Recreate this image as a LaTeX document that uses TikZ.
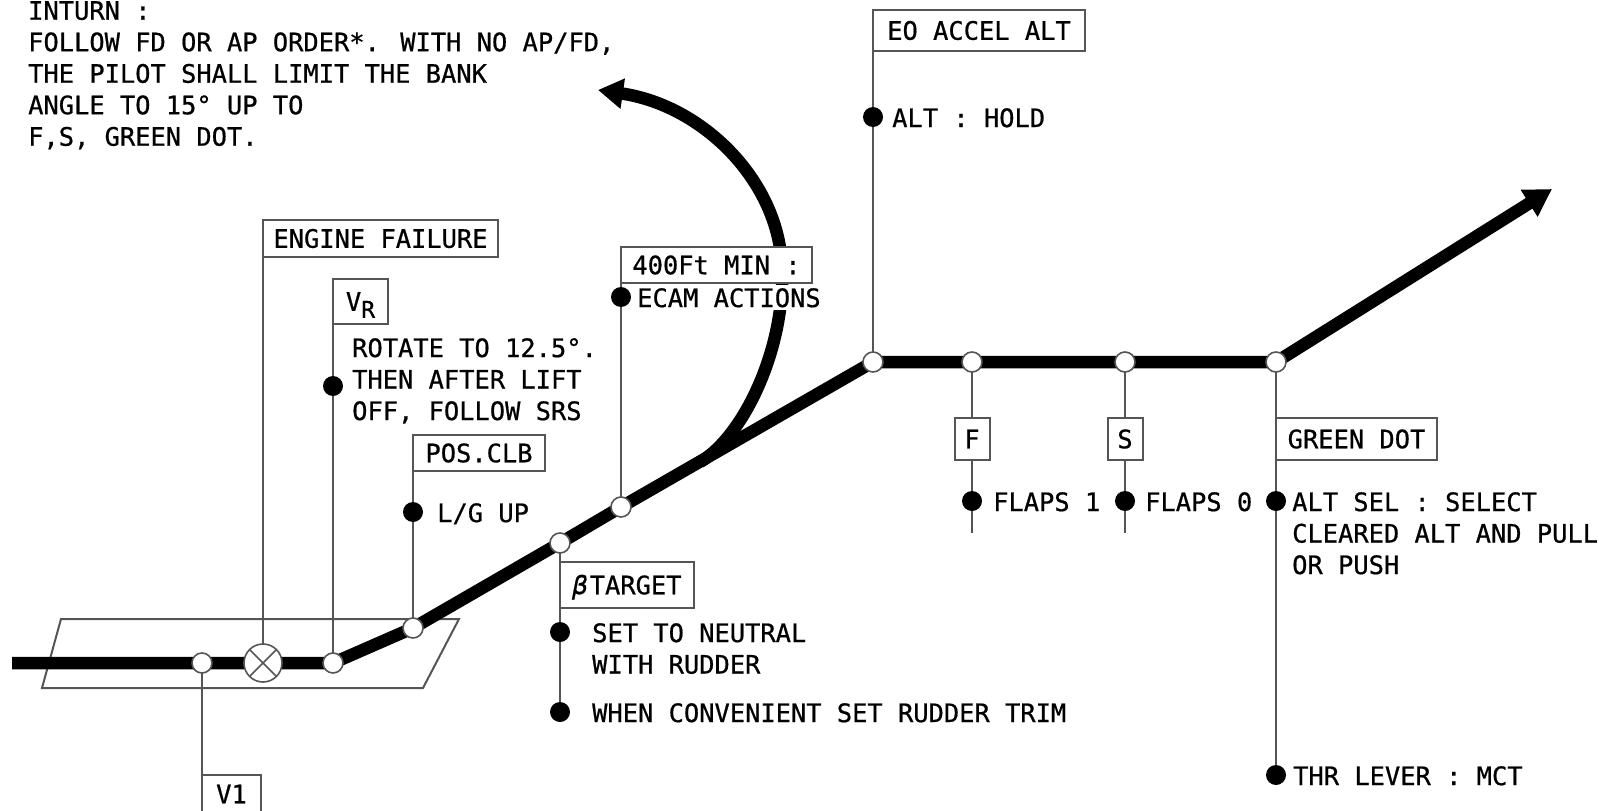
\documentclass[tikz,border=0pt]{standalone}
\usepackage{fontspec}
\setmainfont{DejaVu Sans Mono}[FakeBold=0.7]
\usetikzlibrary{arrows.meta,backgrounds}
\definecolor{lnc}{HTML}{555555}
\begin{document}
\begin{tikzpicture}[x=1pt,y=-1pt,
  font=\fontsize{25.4}{31.5}\selectfont,
  thinln/.style={draw=lnc, line width=2pt},
  lbox/.style={draw=lnc, line width=2pt, fill=white, anchor=north west, inner sep=0pt, outer sep=0pt, text height=18.5pt, text depth=0pt},
  wcirc/.style={circle, draw=lnc, line width=1.6pt, fill=white, minimum size=20pt, inner sep=0pt, outer sep=0pt},
  bdot/.style={circle, fill=black, minimum size=20pt, inner sep=0pt, outer sep=0pt},
  txt/.style={anchor=north west, inner sep=0pt, align=left},
  flight/.style={line width=12.5pt, line join=round}]
\useasboundingbox (0,0) rectangle (1599,811);

% circles on the flight path
\node[wcirc] (v1) at (202,663) {};
\node[circle, draw=lnc, line width=1.6pt, fill=white, minimum size=38pt, inner sep=0pt, outer sep=0pt] (ef) at (263,663) {};
\draw[lnc, line width=1.6pt] (ef.north west) -- (ef.south east) (ef.north east) -- (ef.south west);
\node[wcirc] (vr) at (333,663) {};
\node[wcirc] (pos) at (413,628) {};
\node[wcirc] (bt) at (560,543) {};
\node[wcirc] (m400) at (621,507) {};
\node[wcirc] (eo) at (873,362) {};
\node[wcirc] (fp) at (972,362) {};
\node[wcirc] (sp) at (1125,362) {};
\node[wcirc] (gd) at (1276,362) {};
\coordinate (start) at (12,663);
\coordinate (tip) at (1552,189);
\coordinate (cs) at (700,462);
\coordinate (ce) at (598,90);
\coordinate (fend) at (972,533);
\coordinate (send) at (1125,533);

% label boxes
\node[lbox, minimum width=235pt, minimum height=37pt] (efb) at (263,220) {ENGINE FAILURE};
\node[lbox, minimum width=55pt, minimum height=45pt] (vrb) at (333,279) {V\raisebox{-7pt}{\fontsize{23}{23}\selectfont R}};
\node[lbox, minimum width=132pt, minimum height=36pt] (posb) at (413,435) {POS.CLB};
\node[lbox, minimum width=191pt, minimum height=36pt] (b400) at (621,247) {400Ft MIN :};
\node[lbox, minimum width=134pt, minimum height=46pt] (btb) at (560,562) {{\itshape β}\hspace{2pt}TARGET};
\node[lbox, minimum width=212pt, minimum height=41pt] (eob) at (873,10) {EO ACCEL ALT};
\node[lbox, anchor=north, minimum width=35pt, minimum height=42pt] (fb) at (972,418) {F};
\node[lbox, anchor=north, minimum width=35pt, minimum height=42pt] (sb) at (1125,418) {S};
\node[lbox, minimum width=161pt, minimum height=42pt] (gdb) at (1276,418) {GREEN DOT};
\node[lbox, minimum width=59pt, minimum height=38pt] (v1b) at (202,775) {V1};

% action dots
\node[bdot] (d1) at (333,386) {};
\node[bdot] (d2) at (413,512) {};
\node[bdot] (d3) at (621,297) {};
\node[bdot] (d4) at (560,632) {};
\node[bdot] (d5) at (560,712) {};
\node[bdot] (d6) at (873,117) {};
\node[bdot] (d7) at (972,501) {};
\node[bdot] (d8) at (1125,501) {};
\node[bdot] (d9) at (1276,501) {};
\node[bdot] (d10) at (1276,775) {};

% texts
\node[txt] (t0) at (28,1) {INTURN :\\FOLLOW FD OR AP ORDER*. WITH NO AP/FD,\\THE PILOT SHALL LIMIT THE BANK\\ANGLE TO 15° UP TO\\F,S, GREEN DOT.};
\node[txt] (t1) at (352,338) {ROTATE TO 12.5°.\\THEN AFTER LIFT\\OFF, FOLLOW SRS};
\node[txt] (t2) at (437,503) {L/G UP};
\node[txt, fill=white, inner sep=3pt] (t3) at (634,285) {ECAM ACTIONS};
\node[txt] (t4) at (592,623) {SET TO NEUTRAL\\WITH RUDDER};
\node[txt] (t5) at (592,703) {WHEN CONVENIENT SET RUDDER TRIM};
\node[txt] (t6) at (892,108) {ALT : HOLD};
\node[txt] (t7) at (993,492) {FLAPS 1};
\node[txt] (t8) at (1145,492) {FLAPS 0};
\node[txt] (t9) at (1292,492) {ALT SEL : SELECT\\CLEARED ALT AND PULL\\OR PUSH};
\node[txt] (t10) at (1293,766) {THR LEVER : MCT};

\begin{pgfonlayer}{background}
  % runway
  \draw[thinln] (61,619) -- (459,619) -- (423,688) -- (42,688) -- cycle;
  % thin connectors
  \draw[thinln] (v1.center) -- (v1b.north west);
  \draw[thinln] (ef.center) -- (efb.south west);
  \draw[thinln] (vr.center) -- (vrb.south west);
  \draw[thinln] (pos.center) -- (posb.south west);
  \draw[thinln] (m400.center) -- (b400.south west);
  \draw[thinln] (bt.center) -- (d5.center);
  \draw[thinln] (eo.center) -- (eob.south west);
  \draw[thinln] (fp.center) -- (fend);
  \draw[thinln] (sp.center) -- (send);
  \draw[thinln] (gd.center) -- (d10.center);
  % flight path
  \draw[flight, -{Triangle[length=27pt,width=30pt]}] (start) -- (v1.center) -- (ef.center) -- (vr.center) -- (pos.center) -- (bt.center) -- (m400.center) -- (eo.center) -- (fp.center) -- (sp.center) -- (gd.center) -- (tip);
  % turn arrow
  \draw[flight, -{Triangle[length=25pt,width=29pt]}] (cs) .. controls (745,436) and (790,340) .. (781,255) .. controls (772,175) and (700,105) .. (ce);
\end{pgfonlayer}
\end{tikzpicture}
\end{document}
